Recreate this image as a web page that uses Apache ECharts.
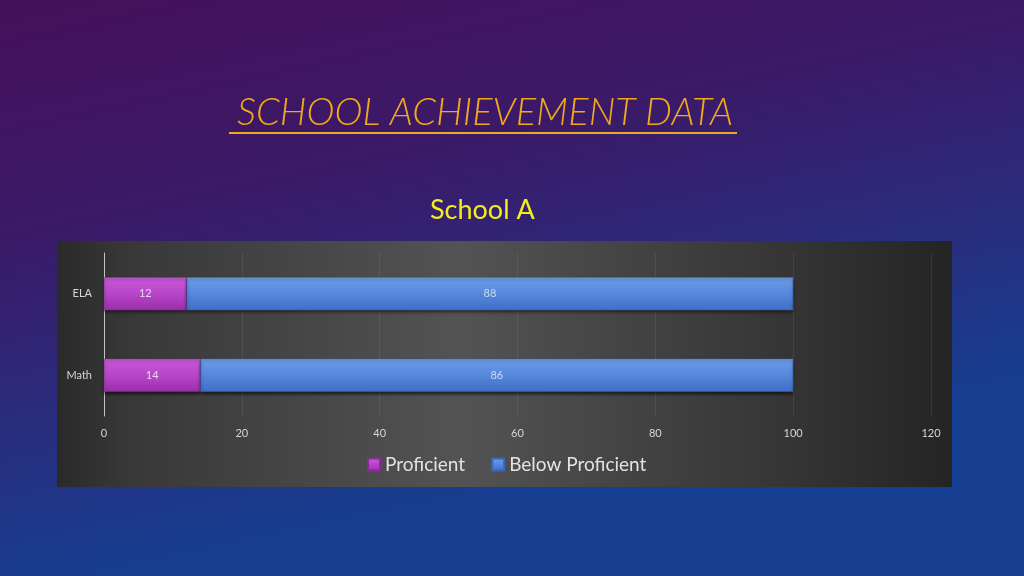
<!DOCTYPE html>
<html>
<head>
<meta charset="utf-8">
<script src="https://cdn.jsdelivr.net/npm/echarts@6/dist/echarts.min.js"></script>
<style>
html,body{margin:0;padding:0;width:1024px;height:576px;overflow:hidden;}
#c{width:1024px;height:576px;}
</style>
</head>
<body>
<div id="c"></div>
<script>
const categories = ['ELA', 'Math'];
const proficient = [12, 14];
const belowProficient = [88, 86];
const xTicks = [0, 20, 40, 60, 80, 100, 120];
const seriesNames = ['Proficient', 'Below Proficient'];
const pageTitle = 'SCHOOL ACHIEVEMENT DATA';
const chartTitle = 'School A';

const FONT = 'Lato';
const chart = echarts.init(document.getElementById('c'), null, {renderer: 'canvas'});

const grad = (a, b, c) => new echarts.graphic.LinearGradient(0, 0, 0, 1, [
  {offset: 0, color: a}, {offset: 0.5, color: b}, {offset: 1, color: c}
]);

chart.setOption({
  backgroundColor: new echarts.graphic.LinearGradient(0, 0, 0.12, 1, [
    {offset: 0, color: '#46105a'},
    {offset: 0.4, color: '#3a1a68'},
    {offset: 0.7, color: '#2a2c7c'},
    {offset: 1, color: '#163e90'}
  ]),
  animation: false,
  graphic: [
    {
      type: 'rect', z: -10, silent: true,
      shape: {x: 57, y: 241, width: 895, height: 246},
      style: {
        fill: new echarts.graphic.LinearGradient(0, 0, 1, 0, [
          {offset: 0, color: '#2a2a2a'},
          {offset: 0.08, color: '#383838'},
          {offset: 0.45, color: '#535353'},
          {offset: 0.78, color: '#383838'},
          {offset: 1, color: '#242424'}
        ])
      }
    },
    {
      type: 'text', left: 237, top: 94, silent: true,
      style: {
        text: pageTitle, fill: '#f0a81e',
        font: 'italic 300 38px ' + FONT
      }
    },
    {
      type: 'line', silent: true,
      shape: {x1: 229, y1: 133, x2: 737, y2: 133},
      style: {stroke: '#f0a81e', lineWidth: 2}
    },
    {
      type: 'text', left: 430, top: 197, silent: true,
      style: {
        text: chartTitle, fill: '#f2ee1e',
        font: '400 27px ' + FONT
      }
    }
  ],
  grid: {left: 104, right: 93, top: 253, bottom: 160, containLabel: false},
  legend: {
    data: seriesNames,
    top: 450, left: 362,
    icon: 'rect', itemWidth: 12, itemHeight: 12, itemGap: 26,
    textStyle: {color: '#e3e3e3', fontSize: 19, fontFamily: FONT}
  },
  xAxis: {
    type: 'value', min: xTicks[0], max: xTicks[xTicks.length - 1], interval: 20,
    axisLine: {show: false}, axisTick: {show: false},
    axisLabel: {color: '#d6d6d6', fontSize: 11, fontFamily: FONT, margin: 12},
    splitLine: {show: true, lineStyle: {color: 'rgba(255,255,255,0.08)', width: 1}}
  },
  yAxis: {
    type: 'category', data: categories, inverse: true,
    axisLine: {show: true, lineStyle: {color: '#c4c4c4', width: 1}},
    axisTick: {show: false},
    axisLabel: {color: '#d6d6d6', fontSize: 11, fontFamily: FONT, margin: 12}
  },
  series: [
    {
      name: seriesNames[0], type: 'bar', stack: 'total', data: proficient,
      barWidth: 33,
      itemStyle: {
        color: grad('#c95ad8', '#b745c9', '#9b2fab'),
        borderColor: '#8a2a98', borderWidth: 0.5,
        shadowColor: 'rgba(0,0,0,0.6)', shadowBlur: 3, shadowOffsetY: 2
      },
      label: {show: true, position: 'inside', color: '#ecd6f2', fontSize: 11, fontFamily: FONT}
    },
    {
      name: seriesNames[1], type: 'bar', stack: 'total', data: belowProficient,
      barWidth: 33,
      itemStyle: {
        color: grad('#6e9ee8', '#5587dc', '#3f6fc6'),
        borderColor: '#3a66b8', borderWidth: 0.5,
        shadowColor: 'rgba(0,0,0,0.6)', shadowBlur: 3, shadowOffsetY: 2
      },
      label: {show: true, position: 'inside', color: '#c8dbf5', fontSize: 11, fontFamily: FONT}
    }
  ]
});
</script>
</body>
</html>
